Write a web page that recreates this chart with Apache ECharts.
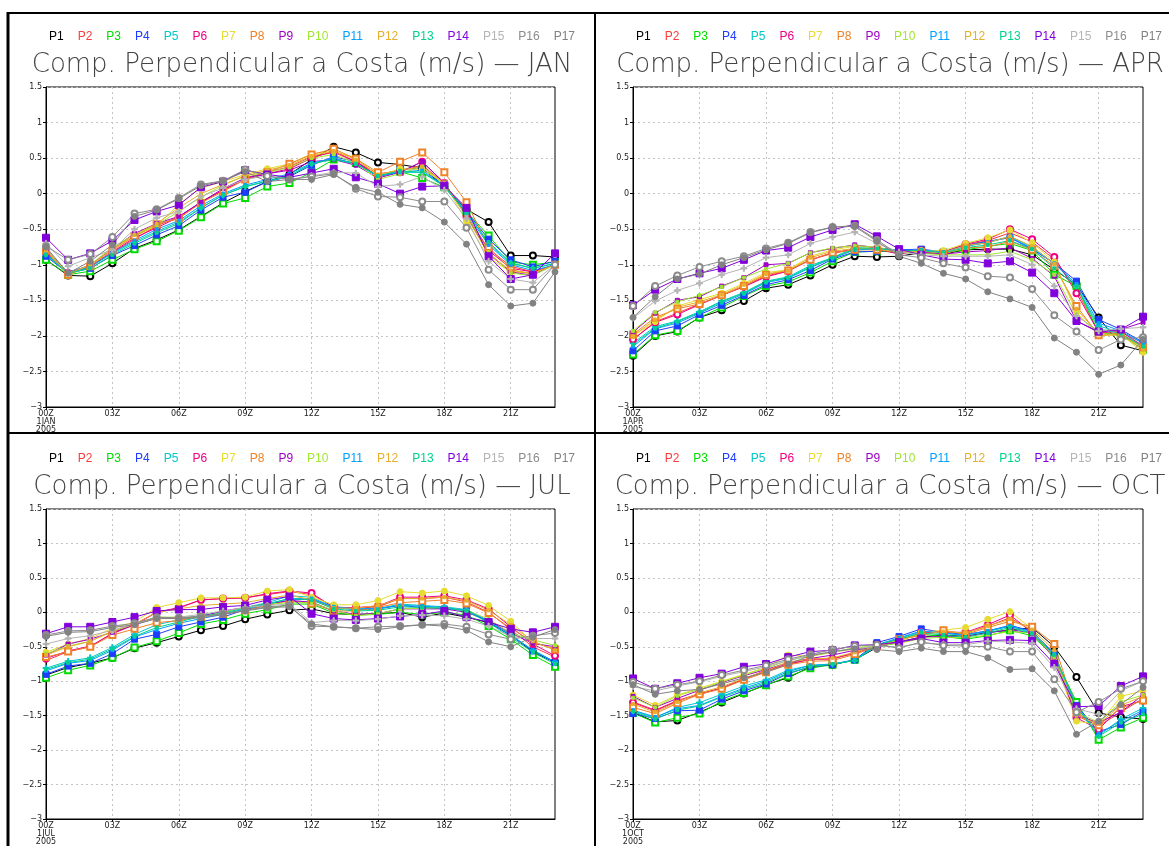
<!DOCTYPE html>
<html>
<head>
<meta charset="utf-8">
<script src="https://cdn.jsdelivr.net/npm/echarts@6/dist/echarts.min.js"></script>
<style>
html,body{margin:0;padding:0;background:#fff;}
#chart{width:1169px;height:846px;}
</style>
</head>
<body>
<div id="chart"></div>
<script>
// ---------- DATA ----------
const hours = ['00Z','01Z','02Z','03Z','04Z','05Z','06Z','07Z','08Z','09Z','10Z','11Z',
               '12Z','13Z','14Z','15Z','16Z','17Z','18Z','19Z','20Z','21Z','22Z','23Z'];
const months = ['JAN','APR','JUL','OCT'];
const dateLabels = ['1JAN\n2005','1APR\n2005','1JUL\n2005','1OCT\n2005'];
const seriesNames = ['P1','P2','P3','P4','P5','P6','P7','P8','P9','P10','P11','P12','P13','P14','P15','P16','P17'];
const titleText = 'Comp. Perpendicular a Costa (m/s) \u2014 ';

const valuesJAN = [
 [-0.93,-1.15,-1.16,-0.98,-0.77,-0.65,-0.51,-0.32,-0.13,0.03,0.17,0.27,0.48,0.66,0.58,0.44,0.41,0.36,0.1,-0.22,-0.4,-0.87,-0.87,-0.89],
 [-0.83,-1.13,-1.03,-0.83,-0.64,-0.45,-0.33,-0.12,0.05,0.22,0.3,0.38,0.52,0.58,0.45,0.28,0.32,0.4,0.15,-0.3,-0.78,-1.02,-1.1,-1.0],
 [-0.93,-1.14,-1.09,-0.93,-0.78,-0.67,-0.52,-0.33,-0.14,-0.06,0.1,0.15,0.3,0.48,0.43,0.24,0.31,0.22,0.09,-0.25,-0.59,-0.96,-1.0,-0.96],
 [-0.88,-1.12,-1.05,-0.87,-0.73,-0.58,-0.45,-0.23,-0.05,0.02,0.17,0.24,0.4,0.52,0.45,0.24,0.34,0.36,0.11,-0.25,-0.64,-0.93,-1.03,-0.95],
 [-0.85,-1.1,-1.02,-0.84,-0.68,-0.53,-0.4,-0.2,-0.02,0.1,0.17,0.25,0.42,0.5,0.42,0.25,0.3,0.3,0.12,-0.25,-0.7,-0.98,-1.05,-0.98],
 [-0.82,-1.12,-1.02,-0.82,-0.62,-0.48,-0.33,-0.12,0.05,0.2,0.28,0.35,0.5,0.6,0.45,0.25,0.3,0.45,0.15,-0.32,-0.8,-1.05,-1.1,-1.0],
 [-0.8,-1.15,-1.0,-0.78,-0.6,-0.45,-0.15,0.08,0.17,0.27,0.35,0.42,0.56,0.6,0.5,0.25,0.35,0.34,0.15,-0.39,-0.9,-1.1,-1.12,-1.0],
 [-0.8,-1.14,-1.02,-0.8,-0.6,-0.43,-0.35,-0.13,0.03,0.2,0.3,0.42,0.55,0.63,0.49,0.3,0.45,0.58,0.3,-0.12,-0.75,-1.07,-1.13,-1.0],
 [-0.78,-1.12,-1.0,-0.78,-0.56,-0.42,-0.32,-0.12,0.07,0.22,0.28,0.33,0.45,0.48,0.4,0.22,0.3,0.45,0.15,-0.3,-0.85,-1.1,-1.15,-0.98],
 [-0.78,-1.13,-1.0,-0.75,-0.58,-0.44,-0.25,-0.05,0.12,0.25,0.3,0.37,0.5,0.55,0.43,0.2,0.28,0.38,0.12,-0.3,-0.82,-1.12,-1.15,-1.0],
 [-0.85,-1.12,-1.03,-0.83,-0.66,-0.5,-0.38,-0.17,0.0,0.12,0.2,0.28,0.43,0.5,0.42,0.25,0.3,0.33,0.1,-0.28,-0.72,-1.0,-1.08,-1.0],
 [-0.8,-1.13,-1.0,-0.78,-0.58,-0.42,-0.2,0.0,0.13,0.25,0.33,0.4,0.53,0.6,0.48,0.27,0.33,0.38,0.15,-0.33,-0.85,-1.08,-1.12,-1.0],
 [-0.86,-1.12,-1.05,-0.86,-0.7,-0.55,-0.42,-0.2,-0.02,0.1,0.18,0.25,0.42,0.48,0.42,0.25,0.32,0.3,0.1,-0.27,-0.68,-0.97,-1.05,-0.98],
 [-0.62,-0.93,-0.84,-0.66,-0.37,-0.25,-0.16,0.09,0.17,0.33,0.27,0.23,0.29,0.35,0.23,0.14,0.0,0.1,0.11,-0.2,-0.88,-1.2,-1.14,-0.84],
 [-0.7,-1.02,-0.9,-0.79,-0.5,-0.34,-0.25,-0.04,0.08,0.2,0.25,0.2,0.25,0.3,0.29,0.1,0.13,0.24,0.05,-0.35,-0.95,-1.2,-1.25,-1.0],
 [-0.74,-0.93,-0.85,-0.61,-0.28,-0.22,-0.06,0.13,0.18,0.34,0.25,0.2,0.24,0.28,0.07,-0.04,-0.05,-0.11,-0.11,-0.48,-1.07,-1.35,-1.35,-1.0],
 [-0.75,-1.12,-0.95,-0.72,-0.32,-0.23,-0.07,0.11,0.18,0.31,0.17,0.2,0.2,0.27,0.09,0.02,-0.15,-0.2,-0.4,-0.71,-1.28,-1.58,-1.54,-1.1]
];

const valuesAPR = [
 [-2.28,-2.0,-1.94,-1.74,-1.64,-1.51,-1.33,-1.28,-1.15,-1.0,-0.88,-0.89,-0.88,-0.83,-0.85,-0.79,-0.78,-0.78,-0.86,-1.07,-1.28,-1.74,-2.13,-2.21],
 [-2.05,-1.8,-1.68,-1.55,-1.43,-1.3,-1.16,-1.08,-0.93,-0.84,-0.78,-0.78,-0.83,-0.8,-0.82,-0.72,-0.66,-0.55,-0.68,-0.92,-1.35,-1.95,-1.97,-2.15],
 [-2.26,-1.99,-1.93,-1.74,-1.6,-1.44,-1.3,-1.24,-1.11,-0.95,-0.82,-0.81,-0.82,-0.8,-0.83,-0.79,-0.74,-0.7,-0.8,-1.14,-1.3,-1.95,-1.99,-2.19],
 [-2.21,-1.93,-1.86,-1.7,-1.57,-1.43,-1.28,-1.21,-1.08,-0.92,-0.82,-0.81,-0.79,-0.78,-0.82,-0.73,-0.67,-0.62,-0.78,-0.98,-1.23,-1.77,-1.91,-2.09],
 [-2.1,-1.87,-1.79,-1.66,-1.51,-1.39,-1.23,-1.17,-1.01,-0.9,-0.76,-0.76,-0.8,-0.8,-0.82,-0.74,-0.69,-0.6,-0.75,-0.98,-1.3,-1.86,-1.95,-2.1],
 [-2.05,-1.81,-1.7,-1.56,-1.43,-1.31,-1.17,-1.09,-0.93,-0.83,-0.78,-0.78,-0.85,-0.8,-0.82,-0.71,-0.64,-0.5,-0.64,-0.89,-1.4,-1.95,-1.94,-2.14],
 [-2.0,-1.8,-1.58,-1.49,-1.4,-1.26,-1.11,-1.07,-0.88,-0.79,-0.74,-0.76,-0.82,-0.8,-0.8,-0.7,-0.62,-0.51,-0.69,-0.96,-1.67,-2.0,-1.98,-2.23],
 [-1.98,-1.74,-1.62,-1.55,-1.43,-1.3,-1.14,-1.08,-0.93,-0.83,-0.79,-0.79,-0.82,-0.82,-0.85,-0.76,-0.75,-0.67,-0.79,-1.02,-1.58,-1.99,-1.98,-2.16],
 [-1.95,-1.68,-1.5,-1.45,-1.3,-1.18,-1.0,-0.98,-0.83,-0.77,-0.72,-0.76,-0.8,-0.82,-0.85,-0.82,-0.8,-0.76,-0.91,-1.16,-1.79,-1.95,-1.91,-1.81],
 [-1.93,-1.67,-1.52,-1.43,-1.31,-1.18,-1.06,-0.98,-0.83,-0.76,-0.73,-0.75,-0.82,-0.84,-0.86,-0.86,-0.86,-0.81,-0.93,-1.14,-1.7,-1.96,-2.0,-2.16],
 [-2.15,-1.9,-1.82,-1.68,-1.54,-1.41,-1.25,-1.19,-1.04,-0.91,-0.79,-0.78,-0.8,-0.79,-0.82,-0.74,-0.68,-0.61,-0.77,-0.98,-1.27,-1.82,-1.93,-2.1],
 [-2.0,-1.77,-1.6,-1.52,-1.42,-1.28,-1.13,-1.08,-0.9,-0.81,-0.77,-0.78,-0.82,-0.81,-0.83,-0.73,-0.69,-0.6,-0.74,-0.99,-1.62,-1.98,-1.97,-2.2],
 [-2.12,-1.89,-1.8,-1.67,-1.52,-1.4,-1.24,-1.18,-1.03,-0.9,-0.78,-0.77,-0.8,-0.8,-0.83,-0.76,-0.72,-0.66,-0.78,-1.05,-1.3,-1.9,-1.97,-2.15],
 [-1.57,-1.35,-1.2,-1.12,-1.05,-0.93,-0.8,-0.76,-0.61,-0.51,-0.43,-0.6,-0.78,-0.86,-0.92,-0.93,-0.98,-0.95,-1.11,-1.4,-1.79,-1.94,-1.91,-1.73],
 [-1.75,-1.51,-1.36,-1.26,-1.14,-1.05,-0.9,-0.86,-0.7,-0.61,-0.54,-0.7,-0.82,-0.86,-0.88,-0.88,-0.88,-0.86,-1.0,-1.3,-1.72,-1.93,-1.9,-1.88],
 [-1.58,-1.3,-1.15,-1.03,-0.95,-0.88,-0.77,-0.69,-0.54,-0.47,-0.45,-0.65,-0.86,-0.9,-0.98,-1.04,-1.16,-1.18,-1.34,-1.71,-1.94,-2.2,-2.05,-2.02],
 [-1.74,-1.45,-1.2,-1.13,-1.0,-0.9,-0.79,-0.7,-0.55,-0.47,-0.46,-0.67,-0.88,-0.98,-1.12,-1.2,-1.38,-1.48,-1.6,-2.03,-2.23,-2.54,-2.41,-2.05]
];

const valuesJUL = [
 [-0.91,-0.8,-0.74,-0.66,-0.52,-0.44,-0.35,-0.26,-0.2,-0.1,-0.03,0.03,0.05,-0.02,-0.03,-0.02,0.0,-0.07,-0.01,-0.07,-0.15,-0.32,-0.58,-0.72],
 [-0.7,-0.57,-0.5,-0.3,-0.18,0.0,0.06,0.18,0.2,0.21,0.26,0.3,0.26,0.08,0.06,0.08,0.2,0.2,0.22,0.15,0.0,-0.25,-0.5,-0.65],
 [-0.95,-0.84,-0.77,-0.66,-0.51,-0.42,-0.3,-0.17,-0.11,-0.02,0.04,0.12,0.12,-0.01,-0.04,-0.03,0.0,-0.03,0.0,-0.04,-0.2,-0.39,-0.62,-0.79],
 [-0.9,-0.78,-0.74,-0.6,-0.39,-0.32,-0.21,-0.14,-0.07,0.04,0.1,0.18,0.19,0.07,0.04,0.05,0.1,0.07,0.05,0.03,-0.14,-0.34,-0.56,-0.73],
 [-0.81,-0.71,-0.66,-0.51,-0.32,-0.18,-0.11,-0.04,0.0,0.07,0.14,0.24,0.22,0.07,0.04,0.05,0.12,0.1,0.08,0.04,-0.12,-0.33,-0.55,-0.72],
 [-0.67,-0.56,-0.49,-0.31,-0.18,0.0,0.07,0.18,0.2,0.21,0.27,0.31,0.28,0.07,0.07,0.09,0.22,0.22,0.24,0.18,0.05,-0.21,-0.46,-0.63],
 [-0.58,-0.46,-0.38,-0.23,-0.14,0.07,0.14,0.21,0.21,0.22,0.31,0.33,0.22,0.11,0.11,0.17,0.3,0.28,0.31,0.24,0.1,-0.13,-0.44,-0.53],
 [-0.65,-0.57,-0.5,-0.33,-0.24,-0.15,-0.12,-0.06,-0.02,0.03,0.1,0.17,0.13,0.02,0.02,0.07,0.14,0.16,0.18,0.13,-0.01,-0.23,-0.43,-0.54],
 [-0.62,-0.46,-0.39,-0.29,-0.18,-0.08,-0.08,-0.06,0.02,0.07,0.12,0.17,0.15,0.02,-0.03,-0.02,0.05,0.05,0.05,0.0,-0.12,-0.3,-0.45,-0.5],
 [-0.6,-0.49,-0.42,-0.28,-0.17,-0.07,-0.07,-0.07,0.0,0.07,0.12,0.14,0.14,0.03,-0.05,-0.02,0.05,0.06,0.07,0.03,-0.1,-0.3,-0.4,-0.48],
 [-0.85,-0.74,-0.7,-0.55,-0.36,-0.25,-0.16,-0.09,-0.03,0.05,0.12,0.2,0.2,0.08,0.05,0.06,0.1,0.09,0.07,0.03,-0.13,-0.33,-0.55,-0.72],
 [-0.62,-0.5,-0.42,-0.27,-0.17,0.0,0.05,0.1,0.12,0.14,0.2,0.25,0.18,0.06,0.06,0.1,0.2,0.2,0.22,0.17,0.03,-0.18,-0.42,-0.55],
 [-0.83,-0.73,-0.68,-0.53,-0.35,-0.22,-0.14,-0.06,-0.01,0.06,0.12,0.2,0.18,0.05,0.02,0.03,0.08,0.07,0.06,0.02,-0.15,-0.36,-0.58,-0.75],
 [-0.31,-0.21,-0.21,-0.14,-0.07,0.02,0.04,0.04,0.08,0.1,0.18,0.23,-0.02,-0.09,-0.11,-0.09,-0.06,-0.03,0.02,-0.07,-0.14,-0.24,-0.29,-0.21],
 [-0.46,-0.38,-0.34,-0.26,-0.17,-0.09,-0.07,-0.03,0.02,0.07,0.1,0.12,-0.15,-0.12,-0.12,-0.1,-0.05,-0.04,-0.05,-0.1,-0.2,-0.35,-0.38,-0.38],
 [-0.33,-0.27,-0.26,-0.2,-0.16,-0.07,-0.08,-0.06,-0.02,0.03,0.08,0.1,-0.2,-0.21,-0.23,-0.21,-0.2,-0.18,-0.17,-0.21,-0.32,-0.39,-0.34,-0.3],
 [-0.35,-0.29,-0.28,-0.22,-0.18,-0.09,-0.09,-0.08,-0.03,0.02,0.07,0.08,-0.17,-0.21,-0.23,-0.25,-0.21,-0.18,-0.2,-0.26,-0.43,-0.5,-0.36,-0.25]
];

const valuesOCT = [
 [-1.45,-1.59,-1.57,-1.45,-1.31,-1.18,-1.05,-0.95,-0.79,-0.76,-0.69,-0.51,-0.43,-0.36,-0.33,-0.35,-0.29,-0.26,-0.22,-0.5,-0.94,-1.46,-1.52,-1.55],
 [-1.3,-1.42,-1.28,-1.18,-1.1,-0.97,-0.85,-0.76,-0.68,-0.67,-0.6,-0.5,-0.4,-0.3,-0.28,-0.3,-0.2,-0.08,-0.27,-0.6,-1.5,-1.65,-1.45,-1.25],
 [-1.46,-1.6,-1.53,-1.47,-1.29,-1.17,-1.06,-0.93,-0.81,-0.76,-0.69,-0.47,-0.4,-0.32,-0.35,-0.39,-0.34,-0.26,-0.34,-0.64,-1.3,-1.85,-1.67,-1.53],
 [-1.47,-1.54,-1.43,-1.42,-1.26,-1.14,-1.04,-0.89,-0.79,-0.76,-0.69,-0.44,-0.35,-0.24,-0.29,-0.32,-0.27,-0.19,-0.27,-0.62,-1.35,-1.73,-1.63,-1.44],
 [-1.43,-1.53,-1.38,-1.31,-1.19,-1.07,-0.98,-0.84,-0.77,-0.75,-0.7,-0.49,-0.38,-0.28,-0.31,-0.33,-0.28,-0.2,-0.3,-0.63,-1.4,-1.79,-1.55,-1.39],
 [-1.31,-1.43,-1.29,-1.19,-1.1,-0.97,-0.84,-0.75,-0.68,-0.68,-0.58,-0.51,-0.42,-0.29,-0.29,-0.29,-0.18,-0.04,-0.29,-0.67,-1.53,-1.7,-1.37,-1.28],
 [-1.2,-1.35,-1.2,-1.1,-1.0,-0.9,-0.8,-0.62,-0.64,-0.58,-0.53,-0.48,-0.43,-0.29,-0.26,-0.22,-0.1,0.01,-0.24,-0.66,-1.58,-1.63,-1.22,-1.14],
 [-1.38,-1.47,-1.32,-1.19,-1.11,-0.98,-0.87,-0.76,-0.71,-0.7,-0.61,-0.49,-0.39,-0.34,-0.26,-0.32,-0.22,-0.13,-0.21,-0.46,-1.46,-1.64,-1.39,-1.28],
 [-1.22,-1.38,-1.25,-1.13,-1.02,-0.92,-0.83,-0.73,-0.67,-0.62,-0.55,-0.5,-0.43,-0.36,-0.35,-0.35,-0.3,-0.25,-0.3,-0.65,-1.5,-1.6,-1.45,-1.2],
 [-1.24,-1.38,-1.21,-1.12,-1.01,-0.91,-0.81,-0.7,-0.63,-0.58,-0.51,-0.49,-0.45,-0.38,-0.36,-0.37,-0.33,-0.28,-0.3,-0.65,-1.45,-1.6,-1.3,-1.2],
 [-1.42,-1.52,-1.4,-1.35,-1.22,-1.1,-1.0,-0.86,-0.77,-0.75,-0.69,-0.47,-0.37,-0.27,-0.3,-0.33,-0.27,-0.2,-0.28,-0.6,-1.38,-1.76,-1.58,-1.42],
 [-1.33,-1.45,-1.3,-1.17,-1.08,-0.96,-0.85,-0.72,-0.68,-0.66,-0.58,-0.49,-0.4,-0.32,-0.28,-0.3,-0.2,-0.1,-0.25,-0.55,-1.5,-1.62,-1.35,-1.22],
 [-1.44,-1.55,-1.42,-1.36,-1.23,-1.12,-1.02,-0.88,-0.79,-0.75,-0.7,-0.47,-0.39,-0.3,-0.33,-0.36,-0.3,-0.22,-0.31,-0.62,-1.35,-1.8,-1.6,-1.48],
 [-0.96,-1.11,-1.03,-0.95,-0.89,-0.79,-0.75,-0.65,-0.57,-0.55,-0.48,-0.47,-0.43,-0.38,-0.44,-0.44,-0.41,-0.4,-0.41,-0.75,-1.37,-1.36,-1.07,-0.93],
 [-1.08,-1.14,-1.07,-1.01,-0.93,-0.86,-0.79,-0.7,-0.62,-0.57,-0.53,-0.49,-0.5,-0.45,-0.46,-0.47,-0.42,-0.43,-0.45,-0.8,-1.4,-1.48,-1.14,-1.0],
 [-1.01,-1.11,-1.05,-1.0,-0.91,-0.84,-0.77,-0.68,-0.61,-0.54,-0.49,-0.47,-0.52,-0.43,-0.48,-0.49,-0.5,-0.57,-0.57,-0.97,-1.45,-1.3,-1.11,-1.0],
 [-1.05,-1.19,-1.14,-1.12,-1.04,-0.95,-0.87,-0.75,-0.63,-0.57,-0.53,-0.54,-0.57,-0.52,-0.57,-0.57,-0.66,-0.83,-0.82,-1.14,-1.77,-1.58,-1.34,-1.09]
];

const panelValues = [valuesJAN, valuesAPR, valuesJUL, valuesOCT];

// ---------- STYLE ----------
const colors = ['#000000','#fa3c3c','#00dc00','#1e3cff','#00c8c8','#f00082','#e6dc32','#f08228',
                '#a000c8','#a0e632','#00a0ff','#e6af2d','#00d28c','#8200dc','#b4b4b4','#8c8c8c','#828282'];
const PLUS = 'path://M4,0H6V4H10V6H6V10H4V6H0V4H4Z';
const markers = ['emptyCircle','rect','emptyRect','rect',PLUS,'emptyCircle','circle','emptyRect',
                 'rect','rect','rect','rect','rect','rect',PLUS,'emptyCircle','circle'];
const markerSizes = [6,3,6,6,6,6,6,6,4,3,3,3,3,7,6,6,6];

const FONT = 'DejaVu Sans';
const grids = [
  {left:46,  top:87,  width:509, height:320},
  {left:633, top:87,  width:510, height:320},
  {left:46,  top:509, width:509, height:321},
  {left:633, top:509, width:510, height:321}
];
const titlePos = [{x:302,y:52},{x:890,y:52},{x:302,y:474},{x:890,y:474}];
const legendPos = [{x:44,y:31},{x:631,y:31},{x:44,y:453},{x:631,y:453}];

const option = {
  animation:false,
  backgroundColor:'#fff',
  textStyle:{fontFamily:FONT},
  title: months.map((m,i)=>({
    text: titleText + m,
    left: titlePos[i].x, top: titlePos[i].y, textAlign:'center', padding:0,
    textStyle:{fontSize:26, fontWeight:200, color:'#444', fontFamily:'DejaVu Sans ExtraLight, DejaVu Sans'}
  })),
  legend: months.map((m,i)=>({
    left: legendPos[i].x, top: legendPos[i].y, width:700,
    icon:'none', itemWidth:0, itemHeight:10, itemGap:9, padding:0,
    selectedMode:false,
    data: seriesNames.map((n,k)=>({name:n, textStyle:{color:colors[k]}})),
    textStyle:{fontSize:12, fontFamily:'Liberation Sans'}
  })),
  grid: grids.map(g=>Object.assign({show:true, borderColor:'#000', borderWidth:1, containLabel:false}, g)),
  xAxis: months.map((m,i)=>({
    type:'category', gridIndex:i, data:hours, boundaryGap:false,
    axisLine:{onZero:false, lineStyle:{color:'#000', width:1}},
    axisTick:{interval:2, length:3, lineStyle:{color:'#000'}},
    axisLabel:{interval:2, fontSize:8, color:'#222', margin:3, lineHeight:8,
      formatter:(v,idx)=> idx===0 ? v + '\n' + dateLabels[i] : v},
    splitLine:{show:true, interval:2, lineStyle:{color:'#c4c4c4', type:[2,3], width:1}}
  })),
  yAxis: months.map((m,i)=>({
    type:'value', gridIndex:i, min:-3, max:1.5, interval:0.5,
    axisLine:{show:true, onZero:false, lineStyle:{color:'#000', width:1}},
    axisTick:{show:true, length:3, lineStyle:{color:'#000'}},
    axisLabel:{fontSize:8, color:'#222', margin:4,
      formatter:v=> String(v).replace('-', '\u2212')},
    splitLine:{show:true, lineStyle:{color:'#c4c4c4', type:[2,3], width:1}}
  })),
  series: [],
  graphic: [
    {type:'line', shape:{x1:8,y1:13,x2:1169,y2:13}, style:{stroke:'#000', lineWidth:2}},
    {type:'line', shape:{x1:8,y1:12,x2:8,y2:846}, style:{stroke:'#000', lineWidth:3}},
    {type:'line', shape:{x1:595,y1:13,x2:595,y2:846}, style:{stroke:'#000', lineWidth:2}},
    {type:'line', shape:{x1:8,y1:433,x2:1169,y2:433}, style:{stroke:'#000', lineWidth:2}}
  ]
};

panelValues.forEach((vals,i)=>{
  vals.forEach((row,k)=>{
    option.series.push({
      name: seriesNames[k], type:'line', xAxisIndex:i, yAxisIndex:i,
      data: row,
      symbol: markers[k], symbolSize: markerSizes[k],
      showAllSymbol:true,
      lineStyle:{color:colors[k], width:1},
      itemStyle:{color:colors[k], borderColor:colors[k], borderWidth:1},
      emphasis:{disabled:true}
    });
  });
});

const chart = echarts.init(document.getElementById('chart'), null, {renderer:'canvas'});
chart.setOption(option);
</script>
</body>
</html>
